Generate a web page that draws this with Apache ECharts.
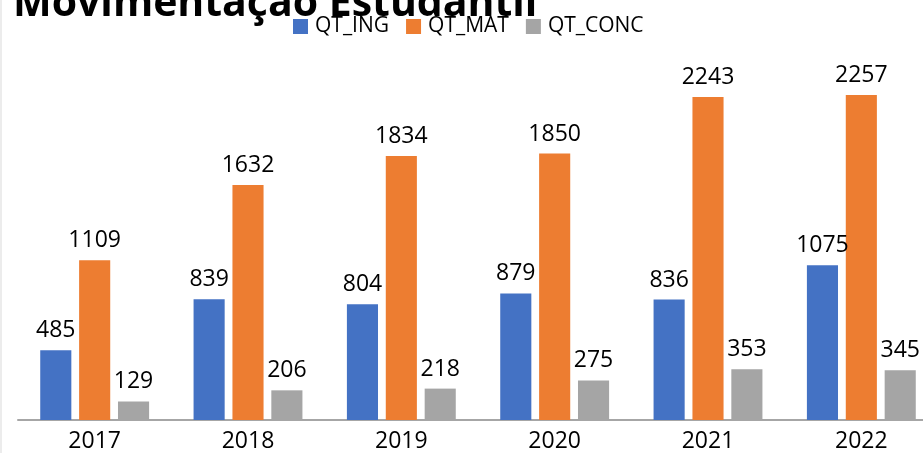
<!DOCTYPE html>
<html>
<head>
<meta charset="utf-8">
<script src="https://cdn.jsdelivr.net/npm/echarts@6/dist/echarts.min.js"></script>
<style>
  html, body { margin: 0; padding: 0; background: #fff; overflow: hidden; }
  /* the plot runs past the right edge in the original, so the canvas is wider than the window */
  #chart { width: 942px; height: 453px; }
</style>
</head>
<body>
<div id="chart"></div>
<script>
const years = ['2017', '2018', '2019', '2020', '2021', '2022'];
const qtIng = [485, 839, 804, 879, 836, 1075];
const qtMat = [1109, 1632, 1834, 1850, 2243, 2257];
const qtConc = [129, 206, 218, 275, 353, 345];

const font = '"Open Sans", "Noto Sans", sans-serif';

const labelStyle = {
  show: true,
  position: 'top',
  distance: 8,
  color: '#000',
  fontSize: 23,
  fontFamily: font,
};

const chart = echarts.init(document.getElementById('chart'));

chart.setOption({
  animation: false,
  color: ['#4472C4', '#ED7D31', '#A5A5A5'],
  title: {
    text: 'Movimentação Estudantil',
    left: 8,
    top: -21,
    textStyle: {
      fontFamily: font,
      fontWeight: 'bold',
      fontSize: 41,
      color: '#000',
    },
  },
  legend: {
    left: 288,
    top: 11,
    itemWidth: 15,
    itemHeight: 15,
    itemGap: 17,
    icon: 'rect',
    textStyle: {
      fontFamily: font,
      fontSize: 21,
      color: '#000',
      padding: [0, 0, 0, 2],
    },
  },
  grid: {
    left: 18,
    right: 4,
    top: 60,
    bottom: 32,
    containLabel: false,
  },
  xAxis: {
    type: 'category',
    data: years,
    axisLine: { lineStyle: { color: '#a6a6a6', width: 2 } },
    axisTick: { show: false },
    axisLabel: {
      color: '#000',
      fontSize: 23,
      fontFamily: font,
      margin: 10,
    },
  },
  yAxis: {
    type: 'value',
    min: 0,
    max: 2500,
    show: false,
    splitLine: { show: false },
  },
  graphic: [
    {
      type: 'line',
      shape: { x1: 1, y1: 0, x2: 1, y2: 453 },
      style: { stroke: '#d9d9d9', lineWidth: 1 },
    },
  ],
  series: [
    { name: 'QT_ING', type: 'bar', data: qtIng, barGap: '25%', barCategoryGap: '29%', label: labelStyle },
    { name: 'QT_MAT', type: 'bar', data: qtMat, barGap: '25%', barCategoryGap: '29%', label: labelStyle },
    { name: 'QT_CONC', type: 'bar', data: qtConc, barGap: '25%', barCategoryGap: '29%', label: labelStyle },
  ],
});
</script>
</body>
</html>
